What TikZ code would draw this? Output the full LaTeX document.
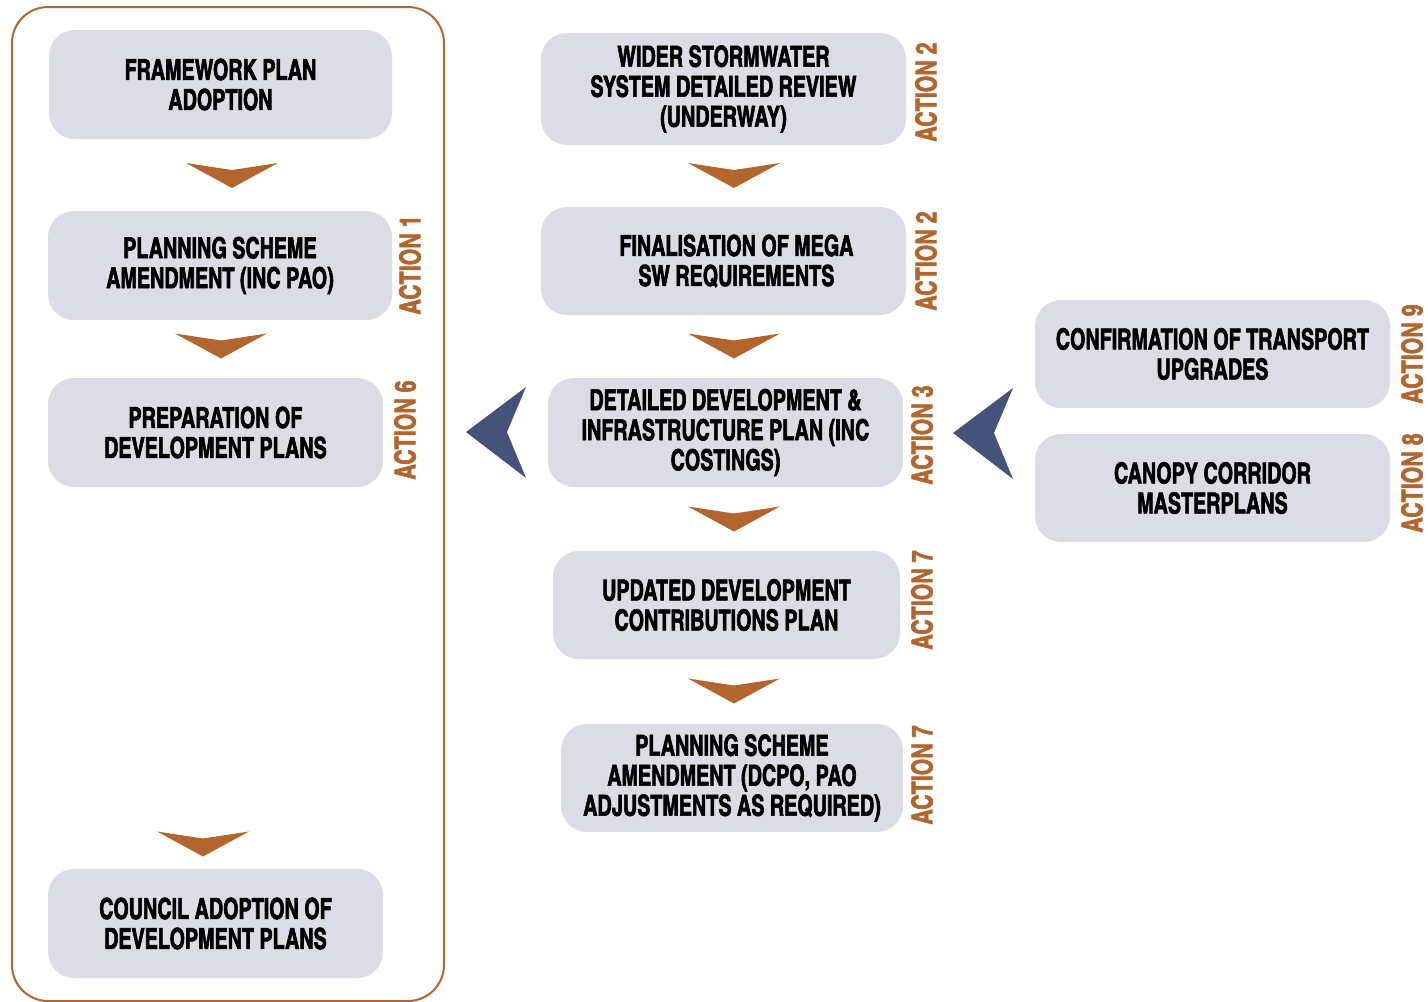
\documentclass[tikz,border=0pt]{standalone}
\usepackage{fontspec}
\newfontfamily\cond{texgyreheroscn-bold.otf}[FakeStretch=0.83, FakeBold=2]
\newfontfamily\condact{texgyreheroscn-bold.otf}[FakeStretch=0.9, FakeBold=2]
\definecolor{boxgray}{HTML}{DCDDE4}
\definecolor{rust}{HTML}{B3652E}
\definecolor{navy}{HTML}{45527A}
\begin{document}
\begin{tikzpicture}[x=1pt,y=-1pt,
  box/.style={fill=boxgray, rounded corners=26pt, align=center, inner sep=0pt,
    font=\cond\fontsize{29}{30}\selectfont, text=black},
  act/.style={text=rust, rotate=90, inner sep=0pt,
    font=\condact\fontsize{29}{30}\selectfont},
  chev/.pic={\fill[rust] (-46,-12.5) -- (0,-5.5) -- (46,-12.5) -- (0,12.5) -- cycle;},
  larrow/.pic={\fill[navy] (-30,0) -- (30,-45) -- (11,0) -- (30,46) -- cycle;}
]
\useasboundingbox (0,0) rectangle (1428,1002);
% frame
\draw[rust, line width=2pt, rounded corners=36pt] (12,7) rectangle (444,1001);
% left column
\node[box, minimum width=343, minimum height=109] (n1) at (220.5,84.5) {FRAMEWORK PLAN\\ADOPTION};
\node[box, minimum width=344, minimum height=109] (n2) at (220,265.5) {PLANNING SCHEME\\AMENDMENT (INC PAO)};
\node[box, minimum width=335, minimum height=109] (n3) at (215.5,432.5) {PREPARATION OF\\DEVELOPMENT PLANS};
\node[box, minimum width=335, minimum height=109] (n4) at (215.5,923.5) {COUNCIL ADOPTION OF\\DEVELOPMENT PLANS};
% middle column
\node[box, minimum width=365, minimum height=112] (m1) at (723.5,89) {WIDER STORMWATER\\SYSTEM DETAILED REVIEW\\(UNDERWAY)};
\node[box, minimum width=365, minimum height=108] (m2) at (723.5,261) {\hspace*{26pt}FINALISATION OF MEGA\\\hspace*{26pt}SW REQUIREMENTS};
\node[box, minimum width=355, minimum height=109] (m3) at (725.5,432.5) {DETAILED DEVELOPMENT \&\\INFRASTRUCTURE PLAN (INC\\COSTINGS)};
\node[box, minimum width=347, minimum height=108] (m4) at (726.5,605) {UPDATED DEVELOPMENT\\CONTRIBUTIONS PLAN};
\node[box, minimum width=342, minimum height=108] (m5) at (732,778) {PLANNING SCHEME\\AMENDMENT (DCPO, PAO\\ADJUSTMENTS AS REQUIRED)};
% right column
\node[box, minimum width=355, minimum height=108] (r1) at (1212.5,354) {CONFIRMATION OF TRANSPORT\\UPGRADES};
\node[box, minimum width=355, minimum height=108] (r2) at (1212.5,488) {CANOPY CORRIDOR\\MASTERPLANS};
% action labels
\node[act] (a1) at (410,265) {ACTION 1};
\node[act] (a6) at (405,430) {ACTION 6};
\node[act] (a2a) at (926,92) {ACTION 2};
\node[act] (a2b) at (926,261) {ACTION 2};
\node[act] (a3) at (922,435) {ACTION 3};
\node[act] (a7a) at (922,600) {ACTION 7};
\node[act] (a7b) at (922,775) {ACTION 7};
\node[act] (a9) at (1412,354) {ACTION 9};
\node[act] (a8) at (1412,483) {ACTION 8};
% chevrons
\pic at (232,175.5) {chev};
\pic at (221,346) {chev};
\pic at (203,844) {chev};
\pic at (734,175.5) {chev};
\pic at (734,346) {chev};
\pic at (734,519) {chev};
\pic at (734,691) {chev};
% blue arrows
\pic at (496,432) {larrow};
\pic at (983,433) {larrow};
\end{tikzpicture}
\end{document}
